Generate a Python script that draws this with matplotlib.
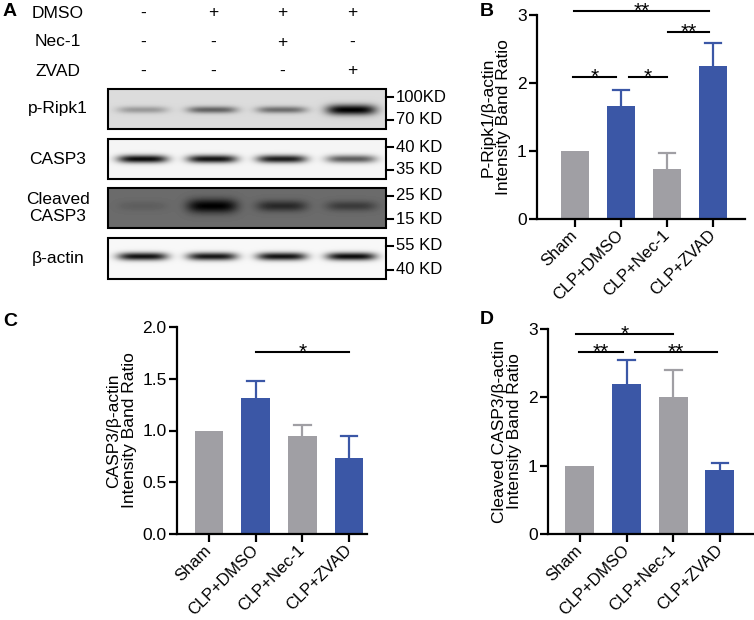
import numpy as np
import matplotlib
matplotlib.use("Agg")
import matplotlib.pyplot as plt
import matplotlib.transforms as mtransforms
from matplotlib.patches import Rectangle

plt.rcParams['font.family'] = ['Liberation Sans', 'DejaVu Sans']

# ---------------- data ----------------
groups = ["Sham", "CLP+DMSO", "CLP+Nec-1", "CLP+ZVAD"]
bar_colors = ["#a09fa4", "#3b57a6", "#a09fa4", "#3b57a6"]

ripk1_mean = [1.0, 1.66, 0.73, 2.24]
ripk1_err = [0.0, 0.23, 0.24, 0.34]
casp3_mean = [1.0, 1.31, 0.95, 0.735]
casp3_err = [0.0, 0.17, 0.10, 0.21]
cleaved_mean = [1.0, 2.2, 2.0, 0.93]
cleaved_err = [0.0, 0.35, 0.40, 0.11]

# significance brackets: (x_start, x_end, y, label)
sig_b = [(-0.04, 0.89, 2.09, "*"), (1.17, 2.0, 2.09, "*"),
         (2.02, 2.91, 2.74, "**"), (-0.02, 2.91, 3.05, "**")]
sig_c = [(1.0, 3.0, 1.76, "*")]
sig_d = [(-0.09, 2.0, 2.93, "*"), (-0.02, 0.92, 2.66, "**"),
         (1.18, 2.94, 2.66, "**")]

# western blot treatment table
treat_names = ["DMSO", "Nec-1", "ZVAD"]
treat_signs = [["-", "+", "+", "+"],
               ["-", "-", "+", "-"],
               ["-", "-", "-", "+"]]

# blot rows: label, background darkness, band intensities, markers
blot_labels = ["p-Ripk1", "CASP3", "Cleaved\nCASP3", "β-actin"]
blot_bg = [0.14, 0.04, 0.58, 0.03]
blot_bands = [[0.30, 0.55, 0.50, 1.0],
              [0.95, 0.92, 0.88, 0.62],
              [0.12, 1.0, 0.62, 0.45],
              [0.92, 0.90, 0.92, 0.95]]
blot_markers = [("100KD", "70 KD"), ("40 KD", "35 KD"),
                ("25 KD", "15 KD"), ("55 KD", "40 KD")]

# ---------------- figure ----------------
W, H = 754, 620
fig = plt.figure(figsize=(W / 100, H / 100), dpi=100)
ov = fig.add_axes([0, 0, 1, 1])
ov.set_xlim(0, W)
ov.set_ylim(H, 0)
ov.axis("off")

# Panel A
ov.text(3, 12, "A", fontsize=14, fontweight="bold", va="center", ha="left")
lane_x = [143, 213, 282, 352]
row_y = [13, 42, 71]
for name, signs, yy in zip(treat_names, treat_signs, row_y):
    ov.text(58, yy, name, fontsize=12.5, ha="center", va="center")
    for s, xx in zip(signs, lane_x):
        ov.text(xx, yy, s, fontsize=12.5, ha="center", va="center")

box_x0, box_x1 = 108, 386
box_rows = [(89, 129), (139, 179), (188, 228), (238, 279)]
band_yc = [0.52, 0.5, 0.45, 0.45]
band_sy = [3.5, 4.0, 5.0, 4.0]
band_thick = [[1, 1, 1, 1.5], [1, 1, 1, 1], [1, 1.4, 1.1, 1], [1, 1, 1, 1]]
for r, (y0, y1) in enumerate(box_rows):
    bw = box_x1 - box_x0
    bh = y1 - y0
    xs = np.arange(bw)[None, :] + 0.5
    ys = np.arange(bh)[:, None] + 0.5
    dark = np.full((bh, bw), blot_bg[r])
    for i, inten in enumerate(blot_bands[r]):
        cx = (i + 0.5) * bw / 4
        sy = band_sy[r] * band_thick[r][i]
        prof = np.exp(-((xs - cx) / 25.0) ** 4) * np.exp(-((ys - band_yc[r] * bh) / sy) ** 2)
        dark = 1 - (1 - dark) * (1 - inten * prof)
    ov.imshow(dark, cmap="gray_r", vmin=0, vmax=1, extent=(box_x0, box_x1, y1, y0),
              aspect="auto", interpolation="bilinear", zorder=1)
    ov.add_patch(Rectangle((box_x0, y0), bw, bh, fill=False, ec="black", lw=1.5, zorder=2))
    ov.text(58, (y0 + y1) / 2, blot_labels[r], fontsize=12.5, ha="center", va="center",
            linespacing=1.1)
    for k, lab in enumerate(blot_markers[r]):
        my = y0 + 8 if k == 0 else y1 - 9
        ov.plot([box_x1, box_x1 + 7], [my, my], color="black", lw=1.5)
        ov.text(box_x1 + 10, my, lab, fontsize=12, ha="left", va="center")
ov.set_xlim(0, W)
ov.set_ylim(H, 0)


def px_axes(left, right, top, bottom):
    return fig.add_axes([left / W, 1 - bottom / H, (right - left) / W, (bottom - top) / H])


shift = mtransforms.ScaledTranslation(3 / 100, 0, fig.dpi_scale_trans)


def bar_panel(ax, means, errs, ylim, yticks, ytlabels, xlim, ylabel, sigs):
    x = np.arange(len(groups))
    ax.bar(x, means, width=0.62, color=bar_colors, zorder=2)
    for xi, m, e, c in zip(x, means, errs, bar_colors):
        if e > 0:
            ax.plot([xi, xi], [m, m + e], color=c, lw=1.6, zorder=1, solid_capstyle="butt")
            ax.plot([xi - 0.18, xi + 0.18], [m + e, m + e], color=c, lw=1.6, zorder=1)
    ax.set_xlim(*xlim)
    ax.set_ylim(*ylim)
    ax.set_yticks(yticks)
    ax.set_yticklabels(ytlabels, fontsize=12.5)
    ax.set_xticks(x)
    ax.set_xticklabels(groups, rotation=45, ha="right", va="center",
                       rotation_mode="anchor", fontsize=12)
    for lbl in ax.get_xticklabels():
        lbl.set_transform(lbl.get_transform() + shift)
    for sp in ["top", "right"]:
        ax.spines[sp].set_visible(False)
    for sp in ["left", "bottom"]:
        ax.spines[sp].set_linewidth(1.6)
    ax.tick_params(axis="y", width=1.6, length=6, pad=1.5)
    ax.tick_params(axis="x", width=1.6, length=6, pad=4)
    ax.set_ylabel(ylabel, fontsize=12.5, linespacing=1.05, labelpad=4)
    ax.patch.set_alpha(0)
    for (a, b, yv, lab) in sigs:
        ax.plot([a, b], [yv, yv], color="black", lw=1.5, clip_on=False)
        ax.annotate(lab, xy=((a + b) / 2, yv), xytext=(0, -7), textcoords="offset points",
                    ha="center", va="bottom", fontsize=15, annotation_clip=False)


# Panel B
axB = px_axes(537, 745, 14.7, 219)
bar_panel(axB, ripk1_mean, ripk1_err, (0, 3), [0, 1, 2, 3], ["0", "1", "2", "3"],
          (-0.83, 3.7), "P-Ripk1/β-actin\nIntensity Band Ratio", sig_b)
ov.text(480, 12, "B", fontsize=14, fontweight="bold", va="center", ha="left")

# Panel C
axC = px_axes(177, 367, 327, 534)
bar_panel(axC, casp3_mean, casp3_err, (0, 2), [0, 0.5, 1.0, 1.5, 2.0],
          ["0.0", "0.5", "1.0", "1.5", "2.0"], (-0.685, 3.385),
          "CASP3/β-actin\nIntensity Band Ratio", sig_c)
ov.text(3, 322, "C", fontsize=14, fontweight="bold", va="center", ha="left")

# Panel D
axD = px_axes(548, 754, 329, 534)
bar_panel(axD, cleaved_mean, cleaved_err, (0, 3), [0, 1, 2, 3], ["0", "1", "2", "3"],
          (-0.685, 3.73), "Cleaved CASP3/β-actin\nIntensity Band Ratio", sig_d)
ov.text(480, 320, "D", fontsize=14, fontweight="bold", va="center", ha="left")

fig.savefig("out.png", dpi=100)
